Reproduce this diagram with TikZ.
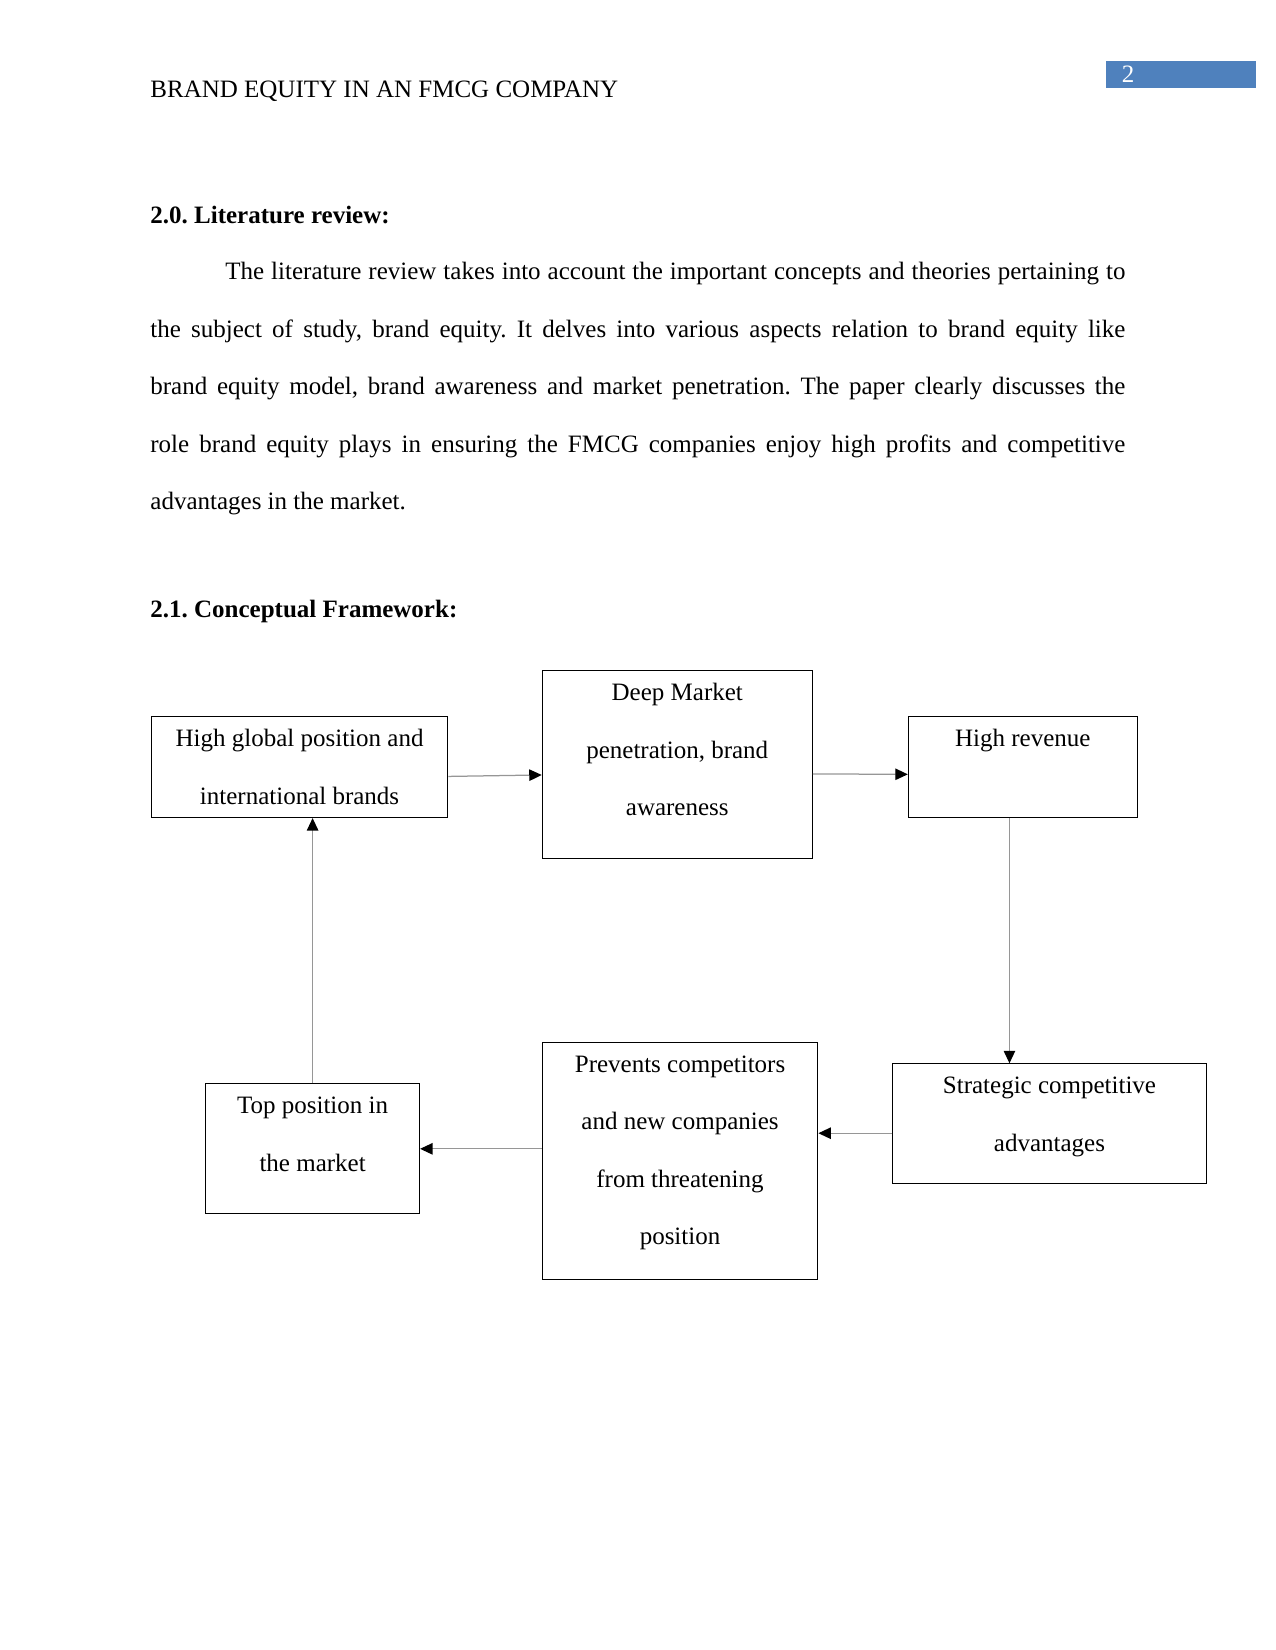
\documentclass[tikz,border=0pt]{standalone}
\usepackage{fontspec}
\setmainfont{Liberation Serif}
\usetikzlibrary{arrows.meta,positioning}
\definecolor{wordblue}{RGB}{79,129,189}
\definecolor{linkgrey}{RGB}{150,150,150}
\newcommand{\boxlines}[3]{\parbox[t][#2][t]{#1}{\centering\rule{0pt}{14.4pt}#3}}

\begin{document}
\frenchspacing
\begin{tikzpicture}[x=0.48pt, y=-0.48pt, font=\fontsize{12pt}{27.6pt}\selectfont,
  fwbox/.style={draw, line width=0.5pt, inner sep=0pt},
  plain/.style={anchor=base west, inner sep=0pt},
  link/.style={draw=linkgrey, line width=0.6pt, -{Triangle[length=6pt,width=5.5pt,color=black]}}]
\useasboundingbox (0,0) rectangle (1275,1650);

% page head
\node[plain] (header) at (150,98) {BRAND EQUITY IN AN FMCG COMPANY};
\fill[wordblue] (1106,61) rectangle (1255.5,88);
\node[plain, text=white] (pagenum) at (1121.5,82.8) {2};

% text
\node[plain] (sec20) at (150,223.2) {\bfseries 2.0. Literature review:};
\node[anchor=north west, inner sep=0pt, text width=468pt, align=justify] (review) at (150,254.5) {\rule{0pt}{12pt}\hspace*{36pt}The literature review takes into account the important concepts and theories pertaining to\linebreak the subject of study, brand equity. It delves into various aspects relation to brand equity like\linebreak brand equity model, brand awareness and market penetration. The paper clearly discusses the\linebreak role brand equity plays in ensuring the FMCG companies enjoy high profits and competitive\linebreak advantages in the market.};
\node[plain] (sec21) at (150,617.2) {\bfseries 2.1. Conceptual Framework:};

% framework boxes
\node[fwbox, anchor=north west] (global) at (150.7,716) {\boxlines{142.4pt}{48.5pt}{High global position and\\ international brands}};
\node[fwbox, right=44.8pt of global, yshift=1.2pt] (penetration) {\boxlines{129.6pt}{90.2pt}{Deep Market\\ penetration, brand\\ awareness}};
\node[fwbox, right=45.6pt of penetration, yshift=-1.2pt] (revenue) {\boxlines{109.9pt}{48.2pt}{High revenue}};
\node[fwbox, anchor=north west] (strategic) at (892.3,1063.3) {\boxlines{150.4pt}{57.6pt}{Strategic competitive\\ advantages}};
\node[fwbox, anchor=north west] (prevents) at (541.7,1041.7) {\boxlines{132.3pt}{114pt}{Prevents competitors\\ and new companies\\ from threatening\\ position}};
\node[fwbox, anchor=north west] (toppos) at (205.1,1083.3) {\boxlines{102.7pt}{62.4pt}{Top position in\\ the market}};

% arrows
\coordinate (revout) at ([xshift=-6.4pt]revenue.south);
\coordinate (stratout) at ([yshift=-4.5pt]strategic.west);
\draw[link] ([yshift=-4.5pt]global.east) -- ([yshift=-5pt]penetration.west);
\draw[link] ([yshift=-4.5pt]penetration.east) -- ([yshift=-3.5pt]revenue.west);
\draw[link] (revout) -- (revout |- strategic.north);
\draw[link] (stratout) -- (stratout -| prevents.east);
\draw[link] (prevents.west |- toppos.east) -- (toppos.east);
\draw[link] (toppos.north) -- (toppos.north |- global.south);
\end{tikzpicture}
\end{document}
